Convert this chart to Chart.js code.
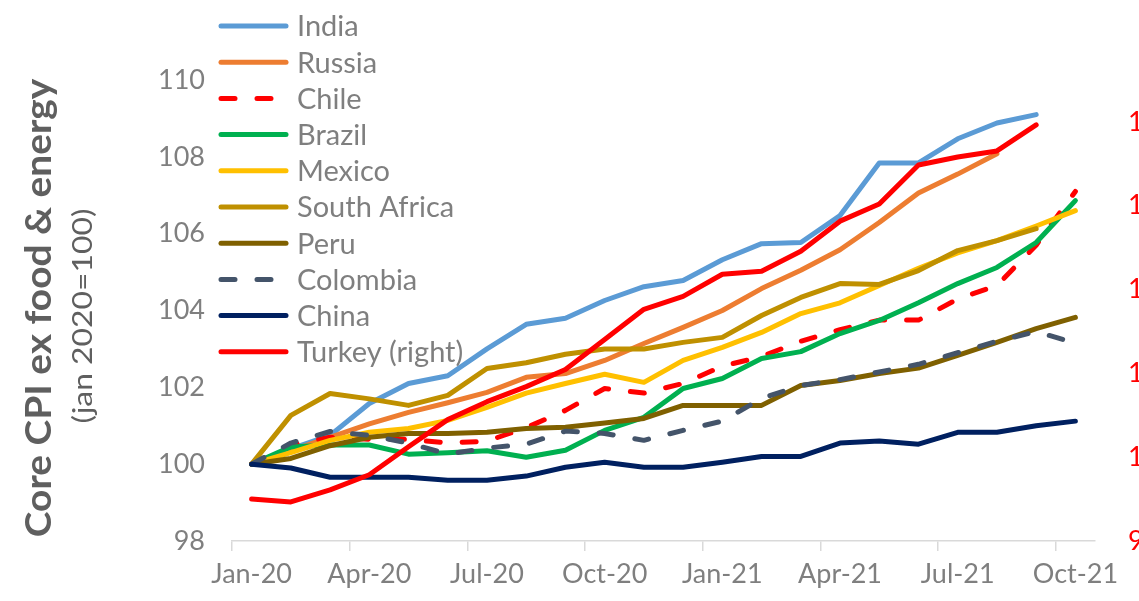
<!DOCTYPE html>
<html>
<head>
<meta charset="utf-8">
<script src="https://cdn.jsdelivr.net/npm/chart.js@4"></script>
<style>
  html, body { margin: 0; padding: 0; background: #fff; overflow: hidden; }
  #wrap { position: relative; width: 1175px; height: 601px; }
</style>
</head>
<body>
<div id="wrap"><canvas id="cpiChart" width="1175" height="601"></canvas></div>
<script>
// Months on the x axis
const months = ['Jan-20', 'Feb-20', 'Mar-20', 'Apr-20', 'May-20', 'Jun-20', 'Jul-20', 'Aug-20', 'Sep-20', 'Oct-20', 'Nov-20', 'Dec-20',
    'Jan-21', 'Feb-21', 'Mar-21', 'Apr-21', 'May-21', 'Jun-21', 'Jul-21', 'Aug-21', 'Sep-21', 'Oct-21'];

// Core CPI ex food & energy, jan 2020 = 100 (left axis)
const india = [100, 100.4, 100.75, 101.58, 102.1, 102.3, 103.0, 103.64, 103.8, 104.26, 104.62, 104.78, 105.32, 105.74, 105.77, 106.47, 107.84, 107.84, 108.47, 108.88, 109.1, null];
const russia = [100, 100.35, 100.7, 101.05, 101.35, 101.6, 101.87, 102.26, 102.36, 102.7, 103.14, 103.56, 104.0, 104.57, 105.05, 105.58, 106.29, 107.06, 107.55, 108.08, null, null];
const chile = [100, 100.5, 100.7, 100.65, 100.65, 100.55, 100.6, 100.95, 101.4, 101.97, 101.85, 102.1, 102.55, 102.8, 103.2, 103.5, 103.75, 103.75, 104.3, 104.65, 105.7, 107.1];
const brazil = [100, 100.45, 100.5, 100.5, 100.26, 100.3, 100.35, 100.18, 100.36, 100.88, 101.22, 101.97, 102.23, 102.75, 102.93, 103.4, 103.74, 104.2, 104.7, 105.12, 105.77, 106.86];
const mexico = [100, 100.3, 100.62, 100.83, 100.93, 101.14, 101.48, 101.85, 102.1, 102.34, 102.13, 102.7, 103.04, 103.43, 103.92, 104.2, 104.65, 105.1, 105.5, 105.82, 106.2, 106.6];
const southAfrica = [100, 101.27, 101.84, 101.7, 101.53, 101.79, 102.49, 102.64, 102.86, 103.0, 103.0, 103.17, 103.3, 103.87, 104.34, 104.7, 104.68, 105.04, 105.56, 105.82, 106.13, null];
const peru = [100, 100.15, 100.48, 100.7, 100.8, 100.8, 100.83, 100.93, 100.96, 101.07, 101.19, 101.53, 101.53, 101.53, 102.05, 102.18, 102.36, 102.5, 102.83, 103.17, 103.53, 103.82];
const colombia = [100, 100.55, 100.85, 100.75, 100.55, 100.26, 100.42, 100.52, 100.86, 100.8, 100.62, 100.88, 101.12, 101.71, 102.05, 102.2, 102.4, 102.6, 102.9, 103.2, 103.45, 103.15];
const china = [100, 99.9, 99.66, 99.66, 99.66, 99.58, 99.58, 99.69, 99.92, 100.05, 99.92, 99.92, 100.05, 100.2, 100.2, 100.55, 100.6, 100.52, 100.83, 100.83, 101.0, 101.12];

// Turkey on the right axis
const turkey = [97.51, 97.33, 98.05, 98.95, 100.62, 102.24, 103.31, 104.21, 105.23, 107.02, 108.82, 109.59, 110.91, 111.09, 112.28, 114.08, 115.1, 117.43, 117.91, 118.27, 119.82, null];

// Axis ranges
const leftMin = 98, leftMax = 110, leftStep = 2;
const rightMin = 95, rightMax = 122.5, rightStep = 5;

const TEXT_GREY = '#7f7f7f';
const FONT = 'Lato, "Open Sans", sans-serif';

function series(label, data, color, axis, dash) {
    return {
        label: label,
        data: data,
        borderColor: color,
        backgroundColor: color,
        borderWidth: 5,
        borderDash: dash || [],
        borderCapStyle: 'round',
        borderJoinStyle: 'round',
        pointRadius: 0,
        tension: 0,
        fill: false,
        yAxisID: axis
    };
}

const datasets = [
    series('India', india, '#5b9bd5', 'y'),
    series('Russia', russia, '#ed7d31', 'y'),
    series('Chile', chile, '#ff0000', 'y', [14, 22]),
    series('Brazil', brazil, '#00b050', 'y'),
    series('Mexico', mexico, '#ffc000', 'y'),
    series('South Africa', southAfrica, '#bf9000', 'y'),
    series('Peru', peru, '#7f6000', 'y'),
    series('Colombia', colombia, '#44546a', 'y', [14, 22]),
    series('China', china, '#002060', 'y'),
    series('Turkey (right)', turkey, '#ff0000', 'y1')
];
// later series sit on top, like the spreadsheet
datasets.forEach((ds, i) => { ds.order = datasets.length - i; });

// Legend drawn as one column in the top left corner
const columnLegend = {
    id: 'columnLegend',
    afterDatasetsDraw(chart) {
        const ctx = chart.ctx;
        ctx.save();
        ctx.font = '29px ' + FONT;
        ctx.textBaseline = 'middle';
        ctx.textAlign = 'left';
        chart.data.datasets.forEach((ds, i) => {
            const y = 26 + i * 36.2;
            ctx.beginPath();
            ctx.strokeStyle = ds.borderColor;
            ctx.lineWidth = 5;
            ctx.lineCap = 'round';
            ctx.setLineDash(ds.borderDash);
            ctx.moveTo(221, y);
            ctx.lineTo(286, y);
            ctx.stroke();
            ctx.fillStyle = TEXT_GREY;
            ctx.fillText(ds.label, 297, y + 1);
        });
        ctx.restore();
    }
};

// Two-line vertical title on the left
const sideTitle = {
    id: 'sideTitle',
    afterDraw(chart) {
        const ctx = chart.ctx;
        ctx.save();
        ctx.fillStyle = '#5f5f5f';
        ctx.textAlign = 'center';
        ctx.textBaseline = 'middle';
        ctx.translate(39, 308);
        ctx.rotate(-Math.PI / 2);
        ctx.save();
        ctx.scale(1.05, 1);
        ctx.font = 'bold 37px ' + FONT;
        ctx.fillText('Core CPI ex food & energy', 0, 0);
        ctx.restore();
        ctx.save();
        ctx.translate(-8, 44);
        ctx.scale(1.18, 1);
        ctx.font = '27px ' + FONT;
        ctx.fillText('(jan 2020=100)', 0, 0);
        ctx.restore();
        ctx.restore();
    }
};

new Chart(document.getElementById('cpiChart').getContext('2d'), {
    type: 'line',
    data: {
        labels: months,
        datasets: datasets
    },
    options: {
        responsive: false,
        animation: false,
        layout: { padding: { top: 80, bottom: 0, left: 0, right: 0 } },
        plugins: {
            legend: { display: false },
            tooltip: { enabled: false }
        },
        scales: {
            x: {
                offset: true,
                grid: {
                    offset: true,
                    drawOnChartArea: false,
                    drawTicks: true,
                    tickLength: 10,
                    color: ctx => (ctx.index % 3 === 0 ? '#d9d9d9' : 'rgba(0,0,0,0)'),
                    lineWidth: 1.5
                },
                border: { color: '#d9d9d9', width: 1.5 },
                ticks: {
                    autoSkip: false,
                    maxRotation: 0,
                    padding: 7,
                    color: TEXT_GREY,
                    font: { family: FONT, size: 27 },
                    callback: function (value, index) {
                        return index % 3 === 0 ? this.getLabelForValue(value) : '';
                    }
                },
                afterFit: s => { s.height = 60; }
            },
            y: {
                position: 'left',
                min: leftMin,
                max: leftMax,
                grid: { display: false, drawTicks: false },
                border: { display: false },
                ticks: {
                    stepSize: leftStep,
                    padding: 27,
                    color: TEXT_GREY,
                    font: { family: FONT, size: 27 }
                },
                afterFit: s => { s.width = 232; }
            },
            y1: {
                position: 'right',
                min: rightMin,
                max: rightMax,
                grid: { display: false, drawTicks: false },
                border: { display: false },
                ticks: {
                    stepSize: rightStep,
                    padding: 33,
                    color: '#ff0000',
                    font: { family: FONT, size: 27 }
                },
                afterBuildTicks: s => {
                    s.ticks = s.ticks.filter(t => t.value % rightStep === 0);
                },
                afterFit: s => { s.width = 80; }
            }
        }
    },
    plugins: [columnLegend, sideTitle]
});
</script>
</body>
</html>
